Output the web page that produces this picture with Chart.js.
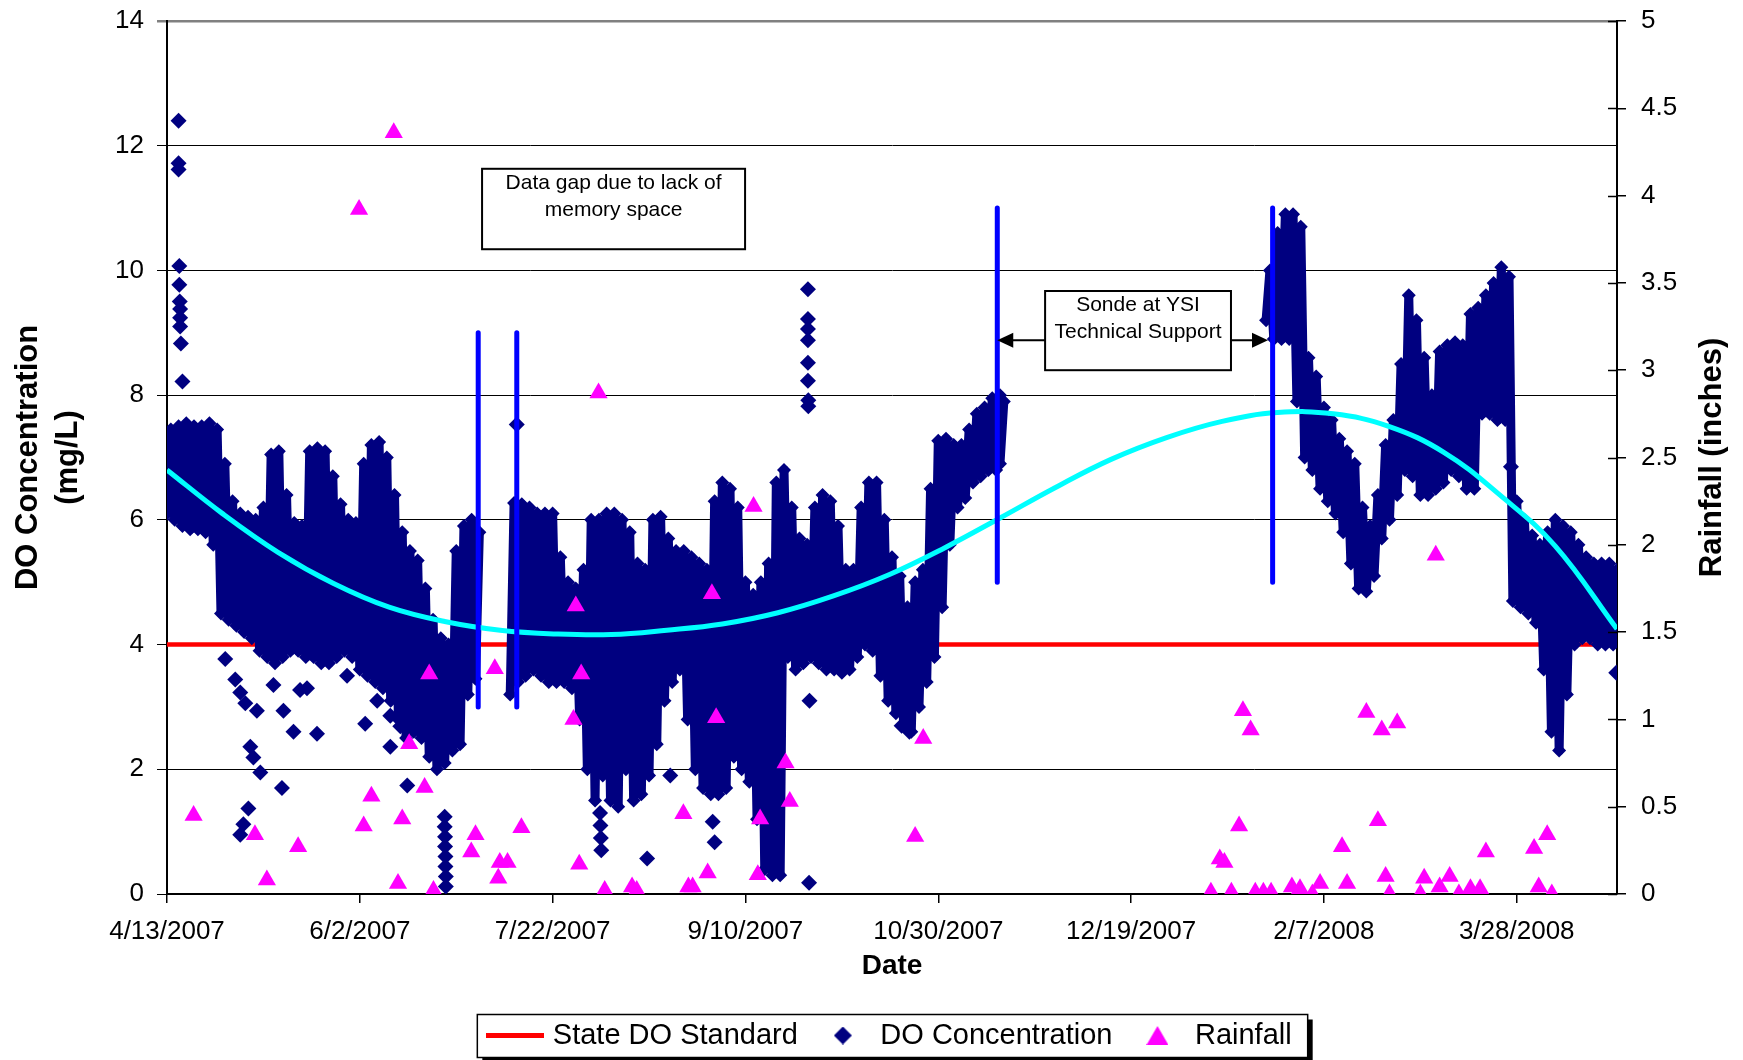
<!DOCTYPE html>
<html>
<head>
<meta charset="utf-8">
<script src="https://cdn.jsdelivr.net/npm/chart.js@4.4.1/dist/chart.umd.min.js"></script>
<style>
html,body{margin:0;padding:0;background:#fff;overflow:hidden}
canvas{display:block}
</style>
</head>
<body>
<canvas id="c" width="1743" height="1060"></canvas>
<script>
// ---------------- DATA (days counted from 4/13/2007) ----------------
const xTickDays = [0, 50, 100, 150, 200, 250, 300, 350];
const xTickLabels = ['4/13/2007', '6/2/2007', '7/22/2007', '9/10/2007', '10/30/2007', '12/19/2007', '2/7/2008', '3/28/2008'];
const leftTickValues = [0, 2, 4, 6, 8, 10, 12, 14];
const leftTickLabels = ['0', '2', '4', '6', '8', '10', '12', '14'];
const rightTickValues = [0, 0.5, 1, 1.5, 2, 2.5, 3, 3.5, 4, 4.5, 5];
const rightTickLabels = ['0', '0.5', '1', '1.5', '2', '2.5', '3', '3.5', '4', '4.5', '5'];

// State DO standard
const stdDays = [0, 376];
const stdValues = [4, 4];

// DO concentration: daily low reading (on doDay) and high reading (next day)
const doDay = [0,2,4,6,8,10,12,14,16,18,20,22,24,26,28,30,32,34,36,38,40,42,44,46,48,50,52,54,56,58,60,62,64,66,68,70,72,74,76,78,80,
  89,91,93,95,97,99,101,103,105,107,109,111,113,115,117,119,121,123,125,127,129,131,133,135,137,139,141,143,145,147,149,151,153,155,157,159,161,163,165,167,169,171,173,175,177,179,181,183,185,187,189,191,193,195,197,199,201,203,205,207,209,211,213,215,216,
  285,287,289,291,293,295,297,299,301,303,305,307,309,311,313,315,317,319,321,323,325,327,329,331,333,335,337,339,341,343,345,347,349,351,353,355,357,359,361,363,365,367,369,371,373,375];
const doLow = [6.1,6.0,5.9,5.85,5.85,5.8,5.6,4.5,4.4,4.3,4.2,4.1,3.9,3.8,3.7,3.8,3.9,3.9,3.8,3.8,3.7,3.7,3.8,3.9,3.8,3.6,3.5,3.4,3.3,3.1,2.8,2.5,2.6,2.5,2.2,2.0,2.1,2.3,2.4,3.2,3.45,
  3.2,3.4,3.5,3.6,3.5,3.4,3.4,3.4,3.3,2.8,2.0,1.5,1.9,1.5,1.4,2.0,1.5,1.6,1.9,2.4,3.1,3.4,3.6,2.8,2.0,1.7,1.6,1.6,1.7,2.2,2.0,1.8,1.2,0.4,0.3,0.3,3.8,3.6,3.7,3.8,3.7,3.6,3.6,3.55,3.6,3.8,4.0,3.9,3.5,3.1,2.9,2.7,2.6,3.0,3.4,3.8,4.6,5.6,6.2,6.35,6.6,6.7,6.8,6.8,6.9,
  9.2,8.9,8.9,8.9,7.9,7.0,6.8,6.5,6.3,6.1,5.8,5.3,4.9,4.85,5.1,5.7,6.0,6.4,6.8,6.7,6.4,6.4,6.5,6.6,6.8,6.7,6.5,6.5,7.7,7.7,7.6,7.6,4.7,4.6,4.5,4.35,3.6,2.6,2.3,3.2,4.0,4.1,4.1,4.0,4.0,4.0];
const doHigh = [7.45,7.5,7.55,7.5,7.5,7.55,7.45,6.9,6.3,6.1,6.05,6.0,6.2,7.05,7.1,6.4,5.95,5.9,7.1,7.15,7.1,6.7,6.25,6.0,5.95,6.9,7.2,7.25,7.0,6.4,5.8,5.5,5.35,4.9,4.4,4.1,4.0,5.5,5.9,6.0,5.8,
  6.27,6.25,6.2,6.1,6.1,6.1,5.4,5.0,4.9,5.2,6.0,6.0,6.1,6.1,6.0,5.8,5.3,5.2,6.0,6.05,5.7,5.5,5.5,5.4,5.3,5.2,6.3,6.6,6.5,6.2,5.0,4.8,5.0,5.3,6.6,6.8,6.2,5.7,5.6,6.2,6.4,6.3,5.9,5.2,5.2,6.2,6.6,6.6,6.0,5.4,5.1,4.6,5.0,5.2,6.5,7.27,7.3,7.2,7.2,7.45,7.7,7.8,7.95,8.0,7.9,
  10.0,10.6,10.9,10.9,10.7,8.6,8.3,7.8,7.6,7.3,7.1,6.9,6.2,5.9,6.4,7.2,7.6,8.5,9.6,9.2,8.6,8.0,8.7,8.8,8.85,8.8,9.3,9.4,9.6,9.8,10.05,9.9,6.3,6.0,5.75,5.6,5.8,6.0,5.9,5.8,5.6,5.4,5.3,5.3,5.3,5.2];

// DO readings standing apart from the main band
const outDay = [3,3,3,3.2,3.2,3.3,3.4,3.4,3.4,3.6,4,
  15.1,17.7,19,20.3,21.6,23.3,24.2,22.4,21.1,19.8,19,27.6,29.8,30.2,32.8,34.5,36.3,38.9,46.7,51.4,54.5,57.9,57.9,62.3,60.5,
  72,72,72.1,72.1,72.2,72.2,72.3,72.3,90.7,112.3,112.4,112.5,112.6,124.5,130.5,141.5,142,
  166.2,166.2,166.2,166.2,166.2,166.2,166.3,166.3,166.5,166.6,190.5,192.5,348.5,375.8];
const outValue = [12.4,11.72,11.62,10.07,9.77,9.5,9.38,9.24,9.1,8.83,8.22,
  3.77,3.44,3.23,3.06,2.36,2.94,1.95,2.19,1.37,1.12,0.95,3.35,1.7,2.94,2.6,3.27,3.3,2.57,3.5,2.73,3.1,2.86,2.36,1.74,2.69,
  1.24,1.08,0.92,0.76,0.6,0.44,0.28,0.12,7.53,1.3,1.1,0.9,0.7,0.57,1.9,1.16,0.83,
  9.7,9.22,9.06,8.88,8.52,8.23,7.92,7.82,0.18,3.1,2.7,2.6,6.85,3.55];

// Polynomial trend
const trendDays = [0,14.4,28.8,43.2,57.6,72,86.4,100.8,115.2,129.6,144,158.4,172.8,187.2,201.6,216,230.4,244.8,259.2,273.6,288,302.4,316.8,331.2,345.6,360,376];
const trendValues = [6.80,6.10,5.48,4.98,4.60,4.37,4.23,4.17,4.16,4.23,4.33,4.51,4.78,5.12,5.55,6.03,6.52,6.97,7.32,7.58,7.72,7.70,7.50,7.08,6.40,5.58,4.25];

// Rainfall (inches, right axis)
const rainDays = [6.9,22.8,25.9,34.0,49.8,51.0,53.0,58.8,59.9,61.0,62.8,66.8,68.0,69.1,78.9,80.0,85.0,85.9,86.3,88.3,91.9,105.4,106.0,106.9,107.4,111.9,113.5,120.6,121.8,133.9,135.2,136.3,140.2,141.3,142.4,152.1,153.2,153.8,160.4,161.5,194.0,196.1,
  270.7,273.0,274.2,276.0,278.0,279.0,281.0,282.2,284.3,286.3,291.7,293.8,297.0,299.0,304.7,306.0,311.0,314.0,315.0,316.0,317.0,319.0,325.0,326.0,329.0,330.0,332.6,335.0,338.0,340.5,342.0,354.5,355.7,357.9,359.1];
const rainValues = [0.45,0.34,0.08,0.27,3.92,0.39,0.56,4.36,0.06,0.43,0.86,0.61,1.26,0.02,0.24,0.34,1.29,0.09,0.18,0.18,0.38,1.0,1.65,0.17,1.26,2.87,0.02,0.04,0.02,0.46,0.04,0.04,0.12,1.72,1.01,2.22,0.11,0.43,0.75,0.53,0.33,0.89,
  0.01,0.20,0.18,0.01,0.39,1.05,0.94,0.01,0.01,0.01,0.04,0.03,0.0,0.06,0.27,0.06,1.04,0.42,0.94,0.10,0.0,0.98,0.0,0.09,1.94,0.04,0.10,0.0,0.03,0.03,0.24,0.26,0.04,0.34,0.0];

// Sonde events (vertical blue markers)
const markerDays = [80.7, 90.7, 215.3, 286.7];
const markerLow = [3, 3, 5, 5];
const markerHigh = [9, 9, 11, 11];

// ---------------- BUILD ----------------
Chart.defaults.font.family = "'Liberation Sans', Arial, Helvetica, sans-serif";
Chart.defaults.color = '#000';

const NAVY = '#000080', MAGENTA = '#FF00FF', RED = '#FF0000', CYAN = '#00FFFF', BLUE = '#0000FF';

const doPoints = [];
for (let i = 0; i < doDay.length; i++) {
  if (i > 0 && doDay[i] - doDay[i - 1] > 3) doPoints.push({x: doDay[i - 1] + 1.5, y: null});
  doPoints.push({x: doDay[i], y: doLow[i]});
  doPoints.push({x: doDay[i] + 1, y: doHigh[i]});
}
const outPoints = outDay.map((d, i) => ({x: d, y: outValue[i]}));
const stdPoints = stdDays.map((d, i) => ({x: d, y: stdValues[i]}));
const trendPoints = trendDays.map((d, i) => ({x: d, y: trendValues[i]}));
const rainPoints = rainDays.map((d, i) => ({x: d, y: rainValues[i]}));
const markerPoints = [];
markerDays.forEach((d, i) => {
  markerPoints.push({x: d, y: markerLow[i]}, {x: d, y: markerHigh[i]}, {x: d, y: null});
});

function makeCanvas(w, h, draw) {
  const c = document.createElement('canvas');
  c.width = w; c.height = h;
  draw(c.getContext('2d'));
  return c;
}
const legLine = makeCanvas(58, 5, g => { g.fillStyle = RED; g.fillRect(0, 0, 58, 5); });
const legDiamond = makeCanvas(18, 18, g => {
  g.fillStyle = NAVY; g.beginPath(); g.moveTo(9, 0); g.lineTo(18, 9); g.lineTo(9, 18); g.lineTo(0, 9); g.closePath(); g.fill();
});
const legTriangle = makeCanvas(22, 19, g => {
  g.fillStyle = MAGENTA; g.beginPath(); g.moveTo(11, 0); g.lineTo(22, 19); g.lineTo(0, 19); g.closePath(); g.fill();
});

const notes = [
  {lines: ['Data gap due to lack of', 'memory space'], x0: 81.7, x1: 149.9, yTop: 11.63, yBot: 10.34},
  {lines: ['Sonde at YSI', 'Technical Support'], x0: 227.7, x1: 275.9, yTop: 9.67, yBot: 8.40,
   arrowY: 8.88, arrowLeft: 215.3, arrowRight: 285.5}
];

function arrowHead(ctx, tipX, y, dir) {
  ctx.beginPath();
  ctx.moveTo(tipX, y);
  ctx.lineTo(tipX - dir * 16, y - 7.5);
  ctx.lineTo(tipX - dir * 16, y + 7.5);
  ctx.closePath();
  ctx.fill();
}

const decor = {
  id: 'decor',
  beforeDraw(chart) {
    const ctx = chart.ctx;
    const lg = chart.legend;
    if (!lg || !lg.legendHitBoxes || !lg.legendHitBoxes.length) return;
    const hb = lg.legendHitBoxes;
    const last = hb[hb.length - 1];
    const l = hb[0].left - 15, r = last.left + last.width + 16;
    const cy = hb[0].top + 14.5;
    const t = cy - 21, b = cy + 22;
    ctx.save();
    ctx.fillStyle = '#000';
    ctx.fillRect(l + 5, t + 5, r - l, b - t);
    ctx.fillStyle = '#fff';
    ctx.fillRect(l, t, r - l, b - t);
    ctx.strokeStyle = '#000';
    ctx.lineWidth = 1.5;
    ctx.strokeRect(l, t, r - l, b - t);
    ctx.restore();
  },
  afterDatasetsDraw(chart) {
    const ctx = chart.ctx;
    const xs = chart.scales.x, ys = chart.scales.y;
    ctx.save();
    notes.forEach(n => {
      const l = xs.getPixelForValue(n.x0), r = xs.getPixelForValue(n.x1);
      const t = ys.getPixelForValue(n.yTop), b = ys.getPixelForValue(n.yBot);
      ctx.fillStyle = '#fff';
      ctx.fillRect(l, t, r - l, b - t);
      ctx.strokeStyle = '#000';
      ctx.lineWidth = 2;
      ctx.strokeRect(l, t, r - l, b - t);
      ctx.fillStyle = '#000';
      ctx.font = "21px 'Liberation Sans', Arial, sans-serif";
      ctx.textAlign = 'center';
      ctx.textBaseline = 'middle';
      const cx = (l + r) / 2;
      n.lines.forEach((s, i) => ctx.fillText(s, cx, t + 14 + i * 27));
      if (n.arrowY !== undefined) {
        const ay = ys.getPixelForValue(n.arrowY);
        const lt = xs.getPixelForValue(n.arrowLeft), rt = xs.getPixelForValue(n.arrowRight);
        ctx.lineWidth = 2;
        ctx.beginPath();
        ctx.moveTo(l, ay); ctx.lineTo(lt + 12, ay);
        ctx.moveTo(r, ay); ctx.lineTo(rt - 12, ay);
        ctx.stroke();
        arrowHead(ctx, lt, ay, -1);
        arrowHead(ctx, rt, ay, 1);
      }
    });
    ctx.restore();
  },
  afterDraw(chart) {
    const ctx = chart.ctx;
    const y2 = chart.scales.y2;
    ctx.save();
    ctx.strokeStyle = '#000';
    ctx.lineWidth = 1.5;
    ctx.beginPath();
    rightTickValues.forEach(v => {
      const py = Math.round(y2.getPixelForValue(v)) + 0.5;
      ctx.moveTo(y2.left - 9, py); ctx.lineTo(y2.left, py);
    });
    ctx.stroke();
    ctx.translate(y2.right - 31, (chart.chartArea.top + chart.chartArea.bottom) / 2);
    ctx.rotate(-Math.PI / 2);
    ctx.font = "bold 31px 'Liberation Sans', Arial, sans-serif";
    ctx.textAlign = 'center';
    ctx.textBaseline = 'middle';
    ctx.fillStyle = '#000';
    ctx.fillText('Rainfall (inches)', 0, 0);
    ctx.restore();
  }
};

const chart = new Chart(document.getElementById('c'), {
  type: 'scatter',
  data: {
    datasets: [
      {label: 'State DO Standard', data: stdPoints, showLine: true, borderColor: RED, borderWidth: 4.5,
       pointRadius: 0, yAxisID: 'y', order: 6},
      {label: 'DO Concentration', data: doPoints, showLine: true, borderColor: NAVY, borderWidth: 9,
       borderJoinStyle: 'round', borderCapStyle: 'round', spanGaps: false,
       pointStyle: 'rectRot', pointRadius: 7, pointBackgroundColor: NAVY, pointBorderWidth: 0, yAxisID: 'y', order: 5},
      {label: 'DO Concentration (isolated)', data: outPoints, showLine: false,
       pointStyle: 'rectRot', pointRadius: 8, pointBackgroundColor: NAVY, pointBorderWidth: 0, yAxisID: 'y', order: 5},
      {label: 'Trend', data: trendPoints, showLine: true, borderColor: CYAN, borderWidth: 5,
       tension: 0.4, pointRadius: 0, yAxisID: 'y', order: 4},
      {label: 'Rainfall', data: rainPoints, showLine: false, pointStyle: 'triangle', pointRadius: 10.5,
       pointBackgroundColor: MAGENTA, pointBorderWidth: 0, yAxisID: 'y2', order: 3},
      {label: 'Sonde events', data: markerPoints, showLine: true, borderColor: BLUE, borderWidth: 5,
       borderCapStyle: 'round', spanGaps: false, pointRadius: 0, yAxisID: 'y', order: 2}
    ]
  },
  options: {
    responsive: false,
    animation: false,
    devicePixelRatio: 1,
    events: [],
    layout: {padding: {top: 21, left: 0, right: 0, bottom: 0}},
    plugins: {
      tooltip: {enabled: false},
      title: {display: false},
      legend: {
        display: true,
        position: 'bottom',
        fullSize: false,
        labels: {
          usePointStyle: true,
          pointStyleWidth: 46,
          padding: 22,
          color: '#000',
          font: {size: 29},
          generateLabels: () => [
            {text: 'State DO Standard', pointStyle: legLine, fillStyle: RED, strokeStyle: RED, lineWidth: 0, hidden: false, datasetIndex: 0},
            {text: 'DO Concentration', pointStyle: legDiamond, fillStyle: NAVY, strokeStyle: NAVY, lineWidth: 0, hidden: false, datasetIndex: 1},
            {text: 'Rainfall', pointStyle: legTriangle, fillStyle: MAGENTA, strokeStyle: MAGENTA, lineWidth: 0, hidden: false, datasetIndex: 4}
          ]
        }
      }
    },
    scales: {
      x: {
        type: 'linear', position: 'bottom', min: 0, max: 376,
        afterBuildTicks: s => { s.ticks = xTickDays.map(v => ({value: v})); },
        afterFit: s => { s.height = 105; s.paddingLeft = 0; s.paddingRight = 0; },
        ticks: {callback: (v, i) => xTickLabels[i], font: {size: 26}, padding: 13, maxRotation: 0, autoSkip: false},
        grid: {drawOnChartArea: false, drawTicks: true, tickLength: 9, color: '#000', lineWidth: 1.5},
        border: {display: true, color: '#000', width: 2},
        title: {display: true, text: 'Date', font: {size: 28, weight: 'bold'}, padding: {top: 0, bottom: 15.5}, color: '#000'}
      },
      y: {
        type: 'linear', position: 'left', min: 0, max: 14,
        afterBuildTicks: s => { s.ticks = leftTickValues.map(v => ({value: v})); },
        afterFit: s => { s.width = 167; s.paddingTop = 0; s.paddingBottom = 0; },
        ticks: {callback: (v, i) => leftTickLabels[i], font: {size: 26}, padding: 13},
        grid: {drawOnChartArea: true, drawTicks: true, tickLength: 10,
               color: c => (c.tick && c.tick.value === 14) ? '#808080' : '#000',
               lineWidth: c => (c.tick && c.tick.value === 14) ? 2.5 : 1},
        border: {display: true, color: '#000', width: 2},
        title: {display: true, text: ['DO Concentration', '(mg/L)'], font: {size: 31, weight: 'bold', lineHeight: 1.32},
                padding: {top: 7.5, bottom: 0}, color: '#000'}
      },
      y2: {
        type: 'linear', position: 'right', min: 0, max: 5,
        afterBuildTicks: s => { s.ticks = rightTickValues.map(v => ({value: v})); },
        afterFit: s => { s.width = 126; s.paddingTop = 0; s.paddingBottom = 0; },
        ticks: {callback: (v, i) => rightTickLabels[i], font: {size: 26}, padding: 15},
        grid: {drawOnChartArea: false, drawTicks: true, tickLength: 9, color: '#000', lineWidth: 1.5},
        border: {display: true, color: '#000', width: 2},
        title: {display: false}
      }
    }
  },
  plugins: [decor]
});
</script>
</body>
</html>
